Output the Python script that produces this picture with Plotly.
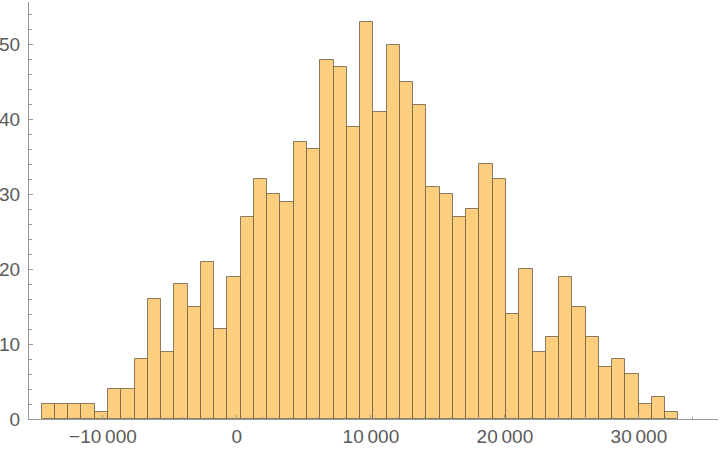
import numpy as np
import plotly.graph_objects as go

# Histogram counts (bins, left to right)
counts = [2, 2, 2, 2, 1, 4, 4, 8, 16, 9, 18, 15, 21, 12, 19, 27, 32, 30, 29, 37,
          36, 48, 47, 39, 53, 41, 50, 45, 42, 31, 30, 27, 28, 34, 32, 14, 20, 9, 11, 19,
          15, 11, 7, 8, 6, 2, 3, 1]
bin_start = -14570
bin_width = 990

x_tickvals = [-10000, 0, 10000, 20000, 30000]
x_ticktext = ["\u221210\u2009000", "0", "10\u2009000", "20\u2009000", "30\u2009000"]
y_tickvals = [0, 10, 20, 30, 40, 50]
y_ticktext = ["0", "10", "20", "30", "40", "50"]

centers = bin_start + bin_width * (np.arange(len(counts)) + 0.5)

fig = go.Figure(go.Bar(
    x=centers,
    y=counts,
    width=bin_width,
    marker=dict(color="rgb(252,207,127)",
                line=dict(color="rgba(110,95,70,0.8)", width=1)),
    hoverinfo="x+y",
))

font = dict(family="Liberation Sans, Arial, sans-serif", size=19, color="#5a5a5a")

fig.update_layout(
    width=720, height=449,
    margin=dict(l=29, r=2, t=2, b=30),
    paper_bgcolor="white", plot_bgcolor="white",
    bargap=0, showlegend=False,
    font=font,
    xaxis=dict(range=[-15515, 35903], showgrid=False, zeroline=False,
               showline=True, linecolor="#999999", linewidth=1,
               automargin=False,
               tickmode="array", tickvals=x_tickvals, ticktext=x_ticktext,
               ticks="inside", ticklen=4, tickcolor="#999999", tickfont=font,
               minor=dict(dtick=2000, tick0=0, ticks="inside", ticklen=2.5,
                          tickcolor="#999999", showgrid=False)),
    yaxis=dict(range=[0, 55.7], showgrid=False, zeroline=False,
               showline=True, linecolor="#999999", linewidth=1,
               automargin=False,
               tickmode="array", tickvals=y_tickvals, ticktext=y_ticktext,
               ticks="inside", ticklen=4, tickcolor="#999999", tickfont=font,
               ticklabelstandoff=4,
               minor=dict(dtick=2, tick0=0, ticks="inside", ticklen=2.5,
                          tickcolor="#999999", showgrid=False)),
)

fig.write_html("out.html", config={"displayModeBar": False},
               post_script="document.body.style.margin='0';")
